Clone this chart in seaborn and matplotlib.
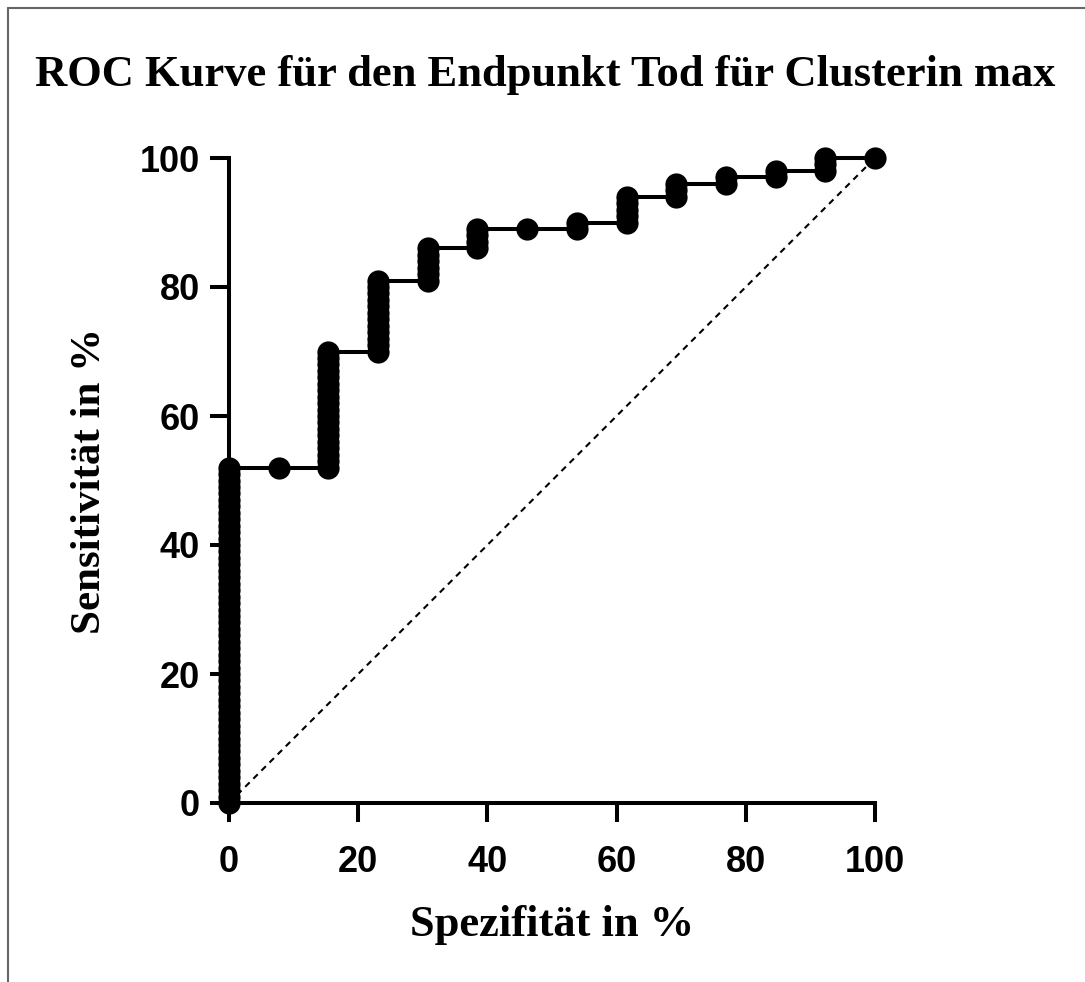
import numpy as np
import pandas as pd
import matplotlib
matplotlib.use("Agg")
import matplotlib.pyplot as plt
import seaborn as sns
from matplotlib.lines import Line2D

# ---------------- DATA ----------------
# 1 - specificity levels (%) and the sensitivity values (%) stacked at each level
spec_levels = [0, 7.69, 15.38, 23.08, 30.77, 38.46, 46.15, 53.85, 61.54, 69.23, 76.92, 84.62, 92.31, 100]
sens_at_level = [
    [0, 1, 2, 3, 4, 5, 6, 7, 8, 9, 10, 11, 12, 13, 14, 15, 16, 17, 18, 19, 20,
     21, 22, 23, 24, 25, 26, 27, 28, 29, 30, 31, 32, 33, 34, 35, 36, 37, 38, 39,
     40, 41, 42, 43, 44, 45, 46, 47, 48, 49, 50, 51, 52],
    [52],
    [52, 53, 54, 55, 56, 57, 58, 59, 60, 61, 62, 63, 64, 65, 66, 67, 68, 69, 70],
    [70, 71, 72, 73, 74, 75, 76, 77, 78, 79, 80, 81],
    [81, 82, 83, 84, 85, 86],
    [86, 87, 88, 89],
    [89],
    [89, 90],
    [90, 91, 92, 93, 94],
    [94, 95, 96],
    [96, 97],
    [97, 98],
    [98, 99, 100],
    [100],
]
chance_line = [0, 100]

title = "ROC Kurve für den Endpunkt Tod für Clusterin max"
xlabel = "Spezifität in %"
ylabel = "Sensitivität in %"
ticks = [0, 20, 40, 60, 80, 100]

rows = []
for x, ys in zip(spec_levels, sens_at_level):
    for y in ys:
        rows.append({"spec": x, "sens": y})
roc = pd.DataFrame(rows)

# ---------------- PLOT ----------------
sns.set_style("white")
plt.rcParams["text.color"] = "black"
plt.rcParams["xtick.color"] = "black"
plt.rcParams["ytick.color"] = "black"
plt.rcParams["axes.labelcolor"] = "black"
serif = ["Liberation Serif", "DejaVu Serif"]
sans = ["Liberation Sans Narrow", "Liberation Sans", "DejaVu Sans"]

fig = plt.figure(figsize=(10.85, 9.82), dpi=100)
ax = fig.add_axes([229 / 1085, 1 - 803 / 982, 646 / 1085, 645 / 982])

sns.lineplot(data=roc, x="spec", y="sens", sort=False, estimator=None,
             color="black", linewidth=2.9, marker="o", markersize=16,
             markeredgewidth=0, ax=ax, clip_on=False, zorder=3)
ax.plot(chance_line, chance_line, color="black", linewidth=1.5,
        linestyle=(0, (3, 2.5)), zorder=2)

ax.set_xlim(0, 100)
ax.set_ylim(0, 100)
ax.set_xticks(ticks)
ax.set_yticks(ticks)
ax.set_xticklabels([str(t) for t in ticks], family=sans, weight="bold", fontsize=26)
ax.set_yticklabels([str(t) for t in ticks], family=sans, weight="bold", fontsize=26)
ax.tick_params(axis="both", direction="out", length=14, width=2.9, color="black",
               labelcolor="black", bottom=True, left=True)
ax.tick_params(axis="x", pad=16)
ax.tick_params(axis="y", pad=7)

for side in ["top", "right"]:
    ax.spines[side].set_visible(False)
for side in ["left", "bottom"]:
    ax.spines[side].set_linewidth(2.9)
    ax.spines[side].set_color("black")

ax.set_xlabel(xlabel, family=serif, weight="bold", fontsize=32, va="center", color="black")
ax.set_ylabel(ylabel, family=serif, weight="bold", fontsize=31, va="center", ha="center",
              color="black")
ax.xaxis.set_label_coords(0.5, (803 - 925) / 645)
ax.yaxis.set_label_coords((90 - 229) / 646, 0.5)

fig.text(545 / 1085, 1 - 75 / 982, title, family=serif, weight="bold",
         fontsize=32, ha="center", va="center", color="black")

# thin gray frame on top and left edge
fig.add_artist(Line2D([8 / 1085, 1], [1 - 8 / 982, 1 - 8 / 982], color="#666666", lw=1.5))
fig.add_artist(Line2D([8 / 1085, 8 / 1085], [0, 1 - 8 / 982], color="#666666", lw=1.5))

fig.savefig("out.png", dpi=100)
